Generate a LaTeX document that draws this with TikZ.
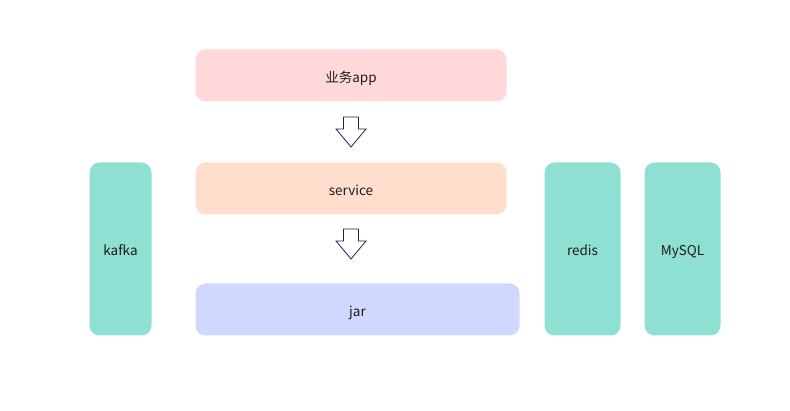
\documentclass[tikz,border=0pt]{standalone}
\usepackage{fontspec}
\usetikzlibrary{calc}
\setmainfont{Noto Sans CJK SC}
\definecolor{pinkfill}{RGB}{255,217,217}
\definecolor{peachfill}{RGB}{255,222,206}
\definecolor{lavfill}{RGB}{208,216,255}
\definecolor{tealfill}{RGB}{142,224,210}
\definecolor{arrowline}{RGB}{30,32,80}
\definecolor{txt}{RGB}{30,30,30}
\begin{document}
\begin{tikzpicture}[x=1pt,y=-1pt,
  box/.style={rounded corners=10pt, draw=none, inner sep=0pt, font=\fontsize{13.5}{15}\selectfont, text=txt, text height=14pt, text depth=0pt},
  blockarrow/.style={draw=arrowline, fill=white, line width=0.8pt, line join=miter}]
\useasboundingbox (0,0) rectangle (790,411);
\node[box, fill=pinkfill, minimum width=311pt, minimum height=52pt] (app) at (351,75.5) {业务app};
\node[box, fill=peachfill, minimum width=311pt, minimum height=52pt] (service) at (351,188.5) {service};
\node[box, fill=lavfill, minimum width=324pt, minimum height=52pt] (jar) at (357.5,309.5) {jar};
\node[box, fill=tealfill, minimum width=62pt, minimum height=173pt] (kafka) at (120.5,249) {kafka};
\node[box, fill=tealfill, minimum width=76pt, minimum height=173pt] (redis) at (582.5,249) {redis};
\node[box, fill=tealfill, minimum width=76pt, minimum height=173pt] (mysql) at (682.5,249) {MySQL};
% block arrows (y axis points down; shifts given in picture units)
\coordinate (a1) at (351,117);
\coordinate (a2) at (351,229);
\foreach \c in {a1,a2}{
  \draw[blockarrow] ($(\c)+(-7.5,0)$) -- ($(\c)+(7.5,0)$) -- ($(\c)+(7.5,12)$)
    -- ($(\c)+(15,12)$) -- ($(\c)+(0,30)$) -- ($(\c)+(-15,12)$)
    -- ($(\c)+(-7.5,12)$) -- cycle;
}
\end{tikzpicture}
\end{document}
